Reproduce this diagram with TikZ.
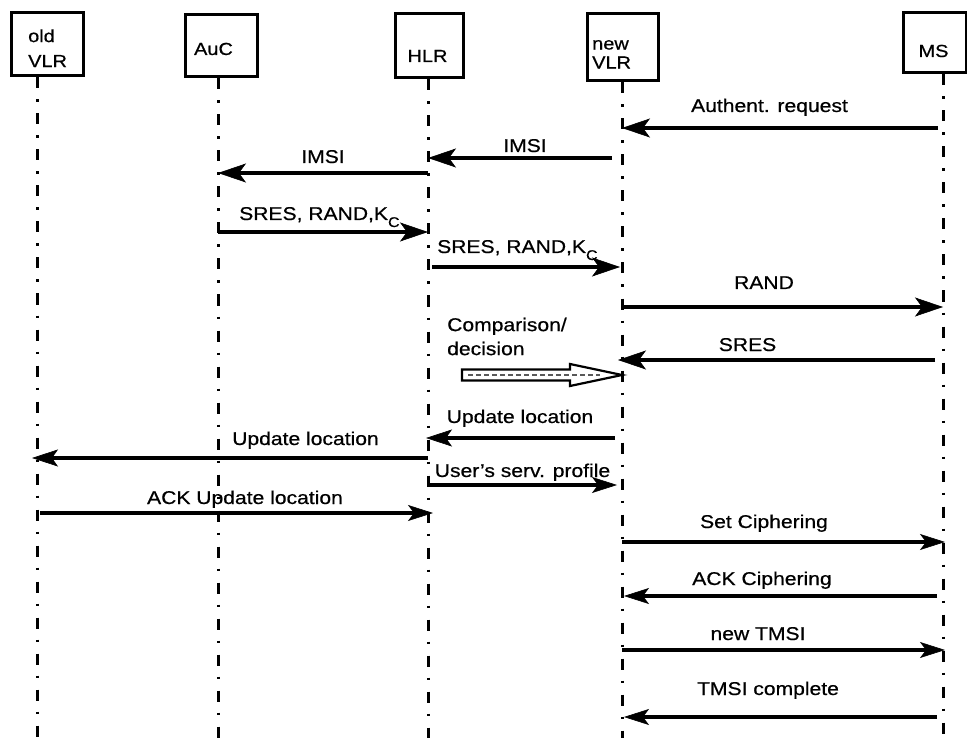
\documentclass[tikz,border=0pt]{standalone}
\usepackage{fontspec}
\setmainfont{Liberation Sans}[FakeStretch=1.14, FakeBold=0.6]
\usetikzlibrary{arrows.meta}
\begin{document}
\begin{tikzpicture}[x=1pt, y=-1pt,
  font=\fontsize{18.5}{22}\selectfont,
  box/.style={draw, line width=3pt, inner sep=0pt},
  boxtext/.style={inner sep=0pt, align=left, font=\fontsize{17.5}{22}\selectfont},
  lifeline/.style={line width=3pt, dash pattern=on 11pt off 11pt on 2.5pt off 11.5pt},
  msgthick/.style={line width=4.6pt, -{Stealth[length=28pt, width=19pt, inset=7pt, line width=0.6pt]}},
  msgmid/.style={line width=3.8pt, -{Stealth[length=26pt, width=17pt, inset=6pt, line width=0.6pt]}},
  msgthin/.style={line width=3.2pt, -{Stealth[length=25pt, width=16pt, inset=6pt, line width=0.6pt]}},
  lbl/.style={anchor=base, inner sep=0pt},
  lblw/.style={anchor=base west, inner sep=0pt},
]
\useasboundingbox (0,0) rectangle (967,738);
\fill[white] (0,0) rectangle (967,738);

% participant boxes
\node[box, minimum width=72pt, minimum height=63pt] (oldVLR) at (47,44.5) {};
\node[box, minimum width=72pt, minimum height=62pt] (AuC)    at (221,46) {};
\node[box, minimum width=68pt, minimum height=64pt] (HLR)    at (429,46) {};
\node[box, minimum width=71pt, minimum height=67pt] (newVLR) at (622.5,47.5) {};
\node[box, minimum width=63pt, minimum height=60pt] (MS)     at (934.5,43) {};

% participant names
\node[boxtext, anchor=north west, font=\fontsize{17.5}{25}\selectfont] (oldVLR-t) at (28,29.2) {old\\VLR};
\node[boxtext, anchor=base] (AuC-t) at (213.5,55) {AuC};
\node[boxtext, anchor=base] (HLR-t) at (427.5,62) {HLR};
\node[boxtext, anchor=north west, font=\fontsize{17.5}{19}\selectfont] (newVLR-t) at (592,39.9) {new\\VLR};
\node[boxtext, anchor=base] (MS-t) at (933.5,57) {MS};

% lifeline positions
\coordinate (L-old)  at (37,0);
\coordinate (L-auc)  at (218,0);
\coordinate (L-hlr)  at (428,0);
\coordinate (L-nvlr) at (622,0);
\coordinate (L-ms)   at (943,0);

% lifelines
\draw[lifeline] (L-old  |- oldVLR.south) -- (L-old  |- 0,740);
\draw[lifeline] (L-auc  |- AuC.south)    -- (L-auc  |- 0,740);
\draw[lifeline] (L-hlr  |- HLR.south)    -- (L-hlr  |- 0,740);
\draw[lifeline] (L-nvlr |- newVLR.south) -- (L-nvlr |- 0,740);
\draw[lifeline] (L-ms   |- MS.south)     -- (L-ms   |- 0,740);

% authentication
\node[lbl] (m1) at (769.5,112) {Authent. request};
\draw[msgthick, shorten <=5pt] (L-ms |- 0,128) -- (L-nvlr |- 0,128);

\node[lbl] (m2) at (525,152) {IMSI};
\draw[msgthick, shorten <=10pt] (L-nvlr |- 0,158) -- (L-hlr |- 0,158);

\node[lbl] (m3) at (323,163) {IMSI};
\draw[msgthick] (L-hlr |- 0,173) -- (L-auc |- 0,173);

\node[lblw] (m4) at (239,220) {SRES, RAND,K\raisebox{-7pt}{\fontsize{14}{14}\selectfont C}};
\draw[msgthick] (L-auc |- 0,232) -- (L-hlr |- 0,232);

\node[lblw] (m5) at (437,253) {SRES, RAND,K\raisebox{-7pt}{\fontsize{14}{14}\selectfont C}};
\draw[msgthick, shorten <=4pt, shorten >=2pt] (L-hlr |- 0,267) -- (L-nvlr |- 0,267);

\node[lbl] (m6) at (764,289) {RAND};
\draw[msgthick] (L-nvlr |- 0,307) -- (L-ms |- 0,307);

\node[lbl] (m7) at (747.5,351) {SRES};
\draw[msgthick, shorten <=8pt, shorten >=-4pt] (L-ms |- 0,360) -- (L-nvlr |- 0,360);

% comparison / decision in the new VLR
\node[inner sep=0pt, align=left, anchor=north west, font=\fontsize{18.5}{24}\selectfont] (cmp) at (447,317.5) {Comparison/\\decision};
\coordinate (cmpTip) at (L-nvlr |- 0,375);
\draw[line width=2.2pt, fill=white, line join=miter]
  (462,369.5) -- (570,369.5) -- (570,364) -- (cmpTip) -- (570,386) -- (570,380.5) -- (462,380.5) -- cycle;
\draw[gray!70!black, line width=1.4pt, dash pattern=on 5pt off 3pt] (468,375) -- (600,375);

% location update
\node[lbl] (m9) at (520,423) {Update location};
\draw[msgmid, shorten <=7pt, shorten >=-2pt] (L-nvlr |- 0,438) -- (L-hlr |- 0,438);

\node[lbl] (m10) at (305.5,445) {Update location};
\draw[msgmid, shorten >=-5pt] (L-hlr |- 0,458) -- (L-old |- 0,458);

\node[lbl] (m11) at (522.5,477) {User's serv. profile};
\draw[msgthin, shorten <=2pt, shorten >=5pt] (L-hlr |- 0,485) -- (L-nvlr |- 0,485);

\node[lbl] (m12) at (245,504) {ACK Update location};
\draw[msgthin, shorten <=3pt, shorten >=-5pt] (L-old |- 0,513) -- (L-hlr |- 0,513);

% ciphering and TMSI
\node[lbl] (m13) at (764,528) {Set Ciphering};
\draw[msgthin, shorten >=-2pt] (L-nvlr |- 0,542) -- (L-ms |- 0,542);

\node[lbl] (m14) at (762,585) {ACK Ciphering};
\draw[msgthin, shorten <=6pt, shorten >=2pt] (L-ms |- 0,596) -- (L-nvlr |- 0,596);

\node[lbl] (m15) at (758,640) {new TMSI};
\draw[msgthin, shorten >=-2pt] (L-nvlr |- 0,650) -- (L-ms |- 0,650);

\node[lbl] (m16) at (768,695) {TMSI complete};
\draw[msgthin, shorten <=6pt, shorten >=2pt] (L-ms |- 0,717) -- (L-nvlr |- 0,717);
\end{tikzpicture}
\end{document}
